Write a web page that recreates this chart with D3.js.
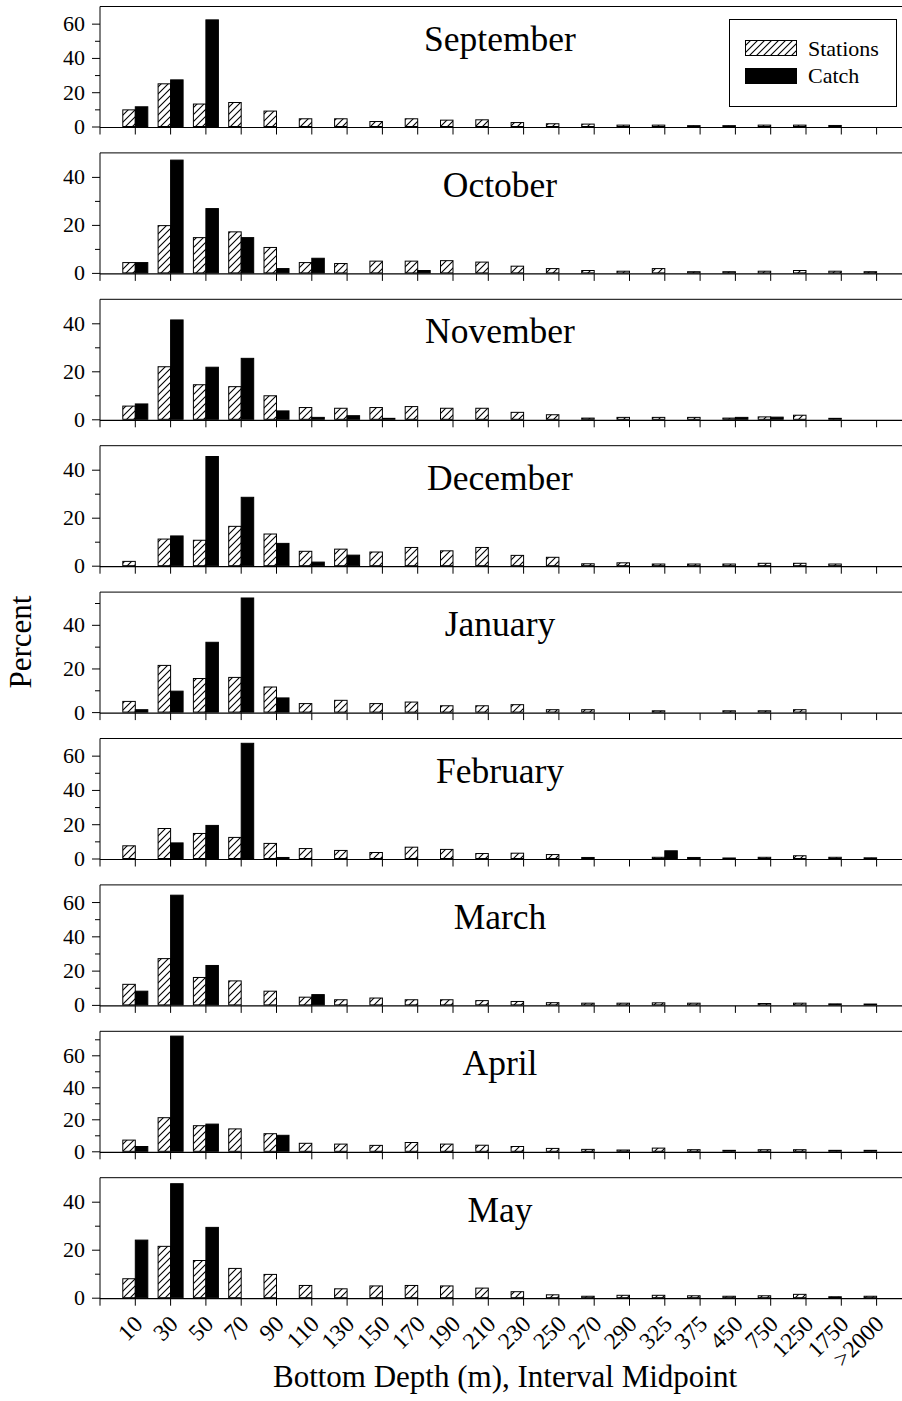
<!DOCTYPE html>
<html><head><meta charset="utf-8">
<script src="https://cdn.jsdelivr.net/npm/d3@7"></script>
<style>body{margin:0;background:#fff} svg{display:block}</style>
</head><body>
<svg id="c" width="902" height="1401"></svg>
<script>
const categories = ["10","30","50","70","90","110","130","150","170","190","210","230","250","270","290","325","375","450","750","1250","1750",">2000"];
const months = ["September","October","November","December","January","February","March","April","May"];
const yMax = [70,50,50,50,55,70,70,75,50];
const yMajorTicks = [0,20,40,60];
const yMinorTicks = [10,30,50,70];

const sepStations = [9.7,24.9,13.1,14.0,9.0,4.5,4.5,2.9,4.5,3.7,3.9,2.3,1.6,1.4,0.8,0.8,0.5,0.5,0.8,0.8,0.6,0];
const sepCatch    = [11.5,27.2,62.2,0,0,0,0,0,0,0,0,0,0,0,0,0,0,0,0,0,0,0];
const octStations = [4.3,19.7,14.7,17.1,10.6,4.3,3.9,4.9,4.9,5.1,4.5,2.8,1.8,1.0,0.7,1.8,0.5,0.5,0.7,1.0,0.7,0.5];
const octCatch    = [4.3,47.0,26.8,14.7,1.8,6.1,0,0,1.0,0,0,0,0,0,0,0,0,0,0,0,0,0];
const novStations = [5.5,21.9,14.4,13.6,9.8,4.9,4.6,4.9,5.3,4.6,4.6,2.9,1.9,0.5,0.8,0.8,0.8,0.5,1.0,1.7,0.4,0];
const novCatch    = [6.4,41.4,21.7,25.4,3.5,0.8,1.5,0.4,0,0,0,0,0,0,0,0,0,0.8,0.9,0,0,0];
const decStations = [1.8,11.1,10.6,16.4,13.2,6.0,6.9,5.7,7.6,6.2,7.6,4.3,3.5,0.8,1.2,0.7,0.7,0.7,1.0,1.0,0.7,0];
const decCatch    = [0,12.4,45.5,28.5,9.3,1.5,4.4,0,0,0,0,0,0,0,0,0,0,0,0,0,0,0];
const janStations = [4.9,21.4,15.4,15.9,11.5,3.9,5.4,3.9,4.6,2.9,2.9,3.4,1.1,1.1,0,0.6,0,0.6,0.6,1.1,0,0];
const janCatch    = [1.1,9.6,32.0,52.3,6.5,0,0,0,0,0,0,0,0,0,0,0,0,0,0,0,0,0];
const febStations = [7.4,17.5,14.6,12.3,8.8,5.8,4.7,3.5,6.6,5.3,2.9,3.1,2.3,0.6,0,0.7,0.6,0.3,0.7,1.6,0.7,0.4];
const febCatch    = [0,9.1,19.3,67.2,0.6,0,0,0,0,0,0,0,0,0,0,4.5,0,0,0,0,0,0];
const marStations = [12,27,16,14,8,4.5,3,4,3,3,2.5,2,1.3,1,1,1.2,1,0,0.8,1,0.6,0.5];
const marCatch    = [8,64,23,0,0,6,0,0,0,0,0,0,0,0,0,0,0,0,0,0,0,0];
const aprStations = [7,21,16,14,11,5,4.5,3.7,5.5,4.5,3.8,3,1.8,1.2,0.8,2,1,0.6,1,1,0.6,0.6];
const aprCatch    = [3,72,17,0,10,0,0,0,0,0,0,0,0,0,0,0,0,0,0,0,0,0];
const mayStations = [7.9,21.4,15.5,12.2,9.7,5.1,3.7,4.9,5.1,4.9,4.0,2.5,1.2,0.6,1.0,1.0,0.8,0.6,0.8,1.4,0.4,0.6];
const mayCatch    = [24,47.5,29.3,0,0,0,0,0,0,0,0,0,0,0,0,0,0,0,0,0,0,0];

const stationsByMonth = [sepStations,octStations,novStations,decStations,janStations,febStations,marStations,aprStations,mayStations];
const catchByMonth = [sepCatch,octCatch,novCatch,decCatch,janCatch,febCatch,marCatch,aprCatch,mayCatch];

const FONT = "'Liberation Serif','Times New Roman',Times,serif";
const svg = d3.select("#c");
const defs = svg.append("defs");
const pat = defs.append("pattern").attr("id","hatch").attr("patternUnits","userSpaceOnUse")
  .attr("width",7).attr("height",7);
pat.append("rect").attr("width",7).attr("height",7).attr("fill","#fff");
pat.append("path").attr("d","M-1,8 L8,-1 M-1,1 L1,-1 M6,8 L8,6").attr("stroke","#000").attr("stroke-width",1.1);

const left = 100, right = 902;
const x = d3.scaleBand().domain(categories).range([117.65, 894.25]).padding(0);
const sub = d3.scaleBand().domain(["stations","catch"]).range([-12.5, 12.5]).padding(0);
const panelTop = i => 6.5 + i*146.4;
const panelH = 120;

months.forEach((m, i) => {
  const top = panelTop(i);
  const y = d3.scaleLinear().domain([0, yMax[i]]).range([top+panelH, top]);
  const g = svg.append("g");
  const y0 = y(0);

  g.append("line").attr("x1",left).attr("x2",right).attr("y1",top).attr("y2",top).attr("stroke","#000").attr("stroke-width",1);
  g.append("line").attr("x1",left).attr("x2",left).attr("y1",top).attr("y2",y0+8).attr("stroke","#000").attr("stroke-width",1);
  g.append("line").attr("x1",left).attr("x2",right).attr("y1",y0+1).attr("y2",y0+1).attr("stroke","#000").attr("stroke-width",1.2);

  const yMaj = g.append("g").attr("transform",`translate(${left},0)`)
    .call(d3.axisLeft(y).tickValues(yMajorTicks.filter(v => v < yMax[i])).tickSize(8).tickPadding(7).tickSizeOuter(0));
  yMaj.select(".domain").remove();
  yMaj.selectAll("text").attr("font-family",FONT).attr("font-size",22).attr("fill","#000");
  const yMin = g.append("g").attr("transform",`translate(${left},0)`)
    .call(d3.axisLeft(y).tickValues(yMinorTicks.filter(v => v < yMax[i])).tickSize(5).tickFormat(""));
  yMin.select(".domain").remove();

  const xa = g.append("g").attr("transform",`translate(0,${y0+1})`)
    .call(d3.axisBottom(x).tickSize(7).tickSizeOuter(0).tickFormat(i === months.length-1 ? (d => d) : ""));
  xa.select(".domain").remove();
  if (i === months.length-1) {
    xa.selectAll("text").attr("font-family",FONT).attr("font-size",23.5).attr("fill","#000")
      .attr("text-anchor","end").attr("x",0).attr("y",0).attr("dy","0.35em")
      .attr("transform","translate(3,21) rotate(-45)");
  }

  const st = stationsByMonth[i], ca = catchByMonth[i];
  const cx = c => x(c) + x.bandwidth()/2;
  g.append("g").selectAll("rect").data(categories.map((c,k) => ({c, v: st[k]})).filter(d => d.v > 0))
    .join("rect")
    .attr("x", d => cx(d.c) + sub("stations")).attr("width", sub.bandwidth())
    .attr("y", d => y(d.v)).attr("height", d => y0 - y(d.v))
    .attr("fill","url(#hatch)").attr("stroke","#000").attr("stroke-width",1);
  g.append("g").selectAll("rect").data(categories.map((c,k) => ({c, v: ca[k]})).filter(d => d.v > 0))
    .join("rect")
    .attr("x", d => cx(d.c) + sub("catch")).attr("width", sub.bandwidth())
    .attr("y", d => y(d.v)).attr("height", d => y0 - y(d.v))
    .attr("fill","#000").attr("stroke","#000").attr("stroke-width",1);

  g.append("text").attr("x",500).attr("y",top+44).attr("text-anchor","middle")
    .attr("font-family",FONT).attr("font-size",35.5).attr("fill","#000").text(m);
});

const lg = svg.append("g");
lg.append("rect").attr("x",729.5).attr("y",19.5).attr("width",167).attr("height",87).attr("fill","#fff").attr("stroke","#000");
lg.append("rect").attr("x",745.5).attr("y",40.5).attr("width",51).attr("height",15).attr("fill","url(#hatch)").attr("stroke","#000");
lg.append("rect").attr("x",745.5).attr("y",68.5).attr("width",51).attr("height",15).attr("fill","#000").attr("stroke","#000");
lg.append("text").attr("x",808).attr("y",56).attr("font-family",FONT).attr("font-size",22).text("Stations");
lg.append("text").attr("x",808).attr("y",83).attr("font-family",FONT).attr("font-size",22).text("Catch");

svg.append("text").attr("transform","translate(31,642) rotate(-90)").attr("text-anchor","middle")
  .attr("font-family",FONT).attr("font-size",31).text("Percent");
svg.append("text").attr("x",505).attr("y",1387).attr("text-anchor","middle")
  .attr("font-family",FONT).attr("font-size",31).text("Bottom Depth (m), Interval Midpoint");
</script>
</body></html>
